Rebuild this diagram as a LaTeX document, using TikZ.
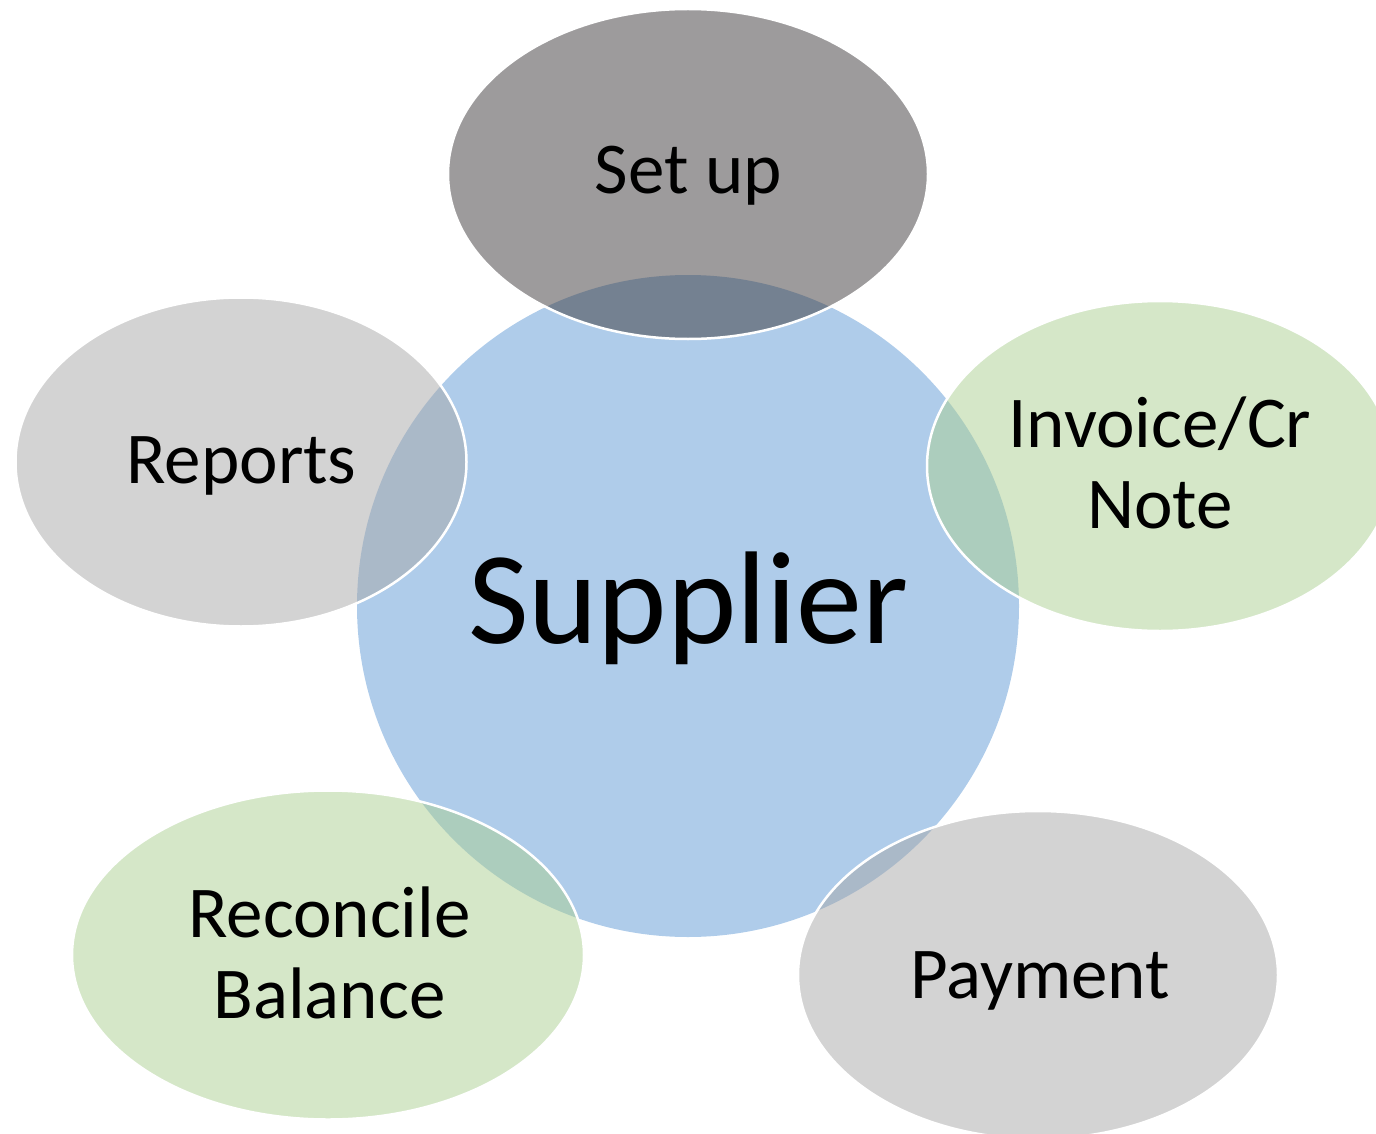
\documentclass[tikz,border=0pt]{standalone}
\usepackage{fontspec}
\setmainfont{Carlito}
\usetikzlibrary{shapes.geometric}
\definecolor{supblue}{RGB}{175,204,234}
\definecolor{setupfill}{RGB}{59,55,57}
\definecolor{greyfill}{RGB}{167,167,167}
\definecolor{greenfill}{RGB}{171,207,145}
\begin{document}
\begin{tikzpicture}[x=1pt,y=-1pt,
  hubstyle/.style={circle, fill=supblue, inner sep=0pt, outer sep=0pt, minimum size=662pt},
  bubble/.style={ellipse, inner sep=0pt, outer sep=0pt, draw=white, line width=2.5pt, fill opacity=0.5, draw opacity=1},
  lbl/.style={font=\fontsize{73}{81}\selectfont, align=center, anchor=base, text=black, inner sep=0pt},
  biglbl/.style={font=\fontsize{132}{150}\selectfont, anchor=base, text=black, inner sep=0pt}]
\useasboundingbox (0,0) rectangle (1376,1134);
\clip (0,0) rectangle (1376,1134);
\node[hubstyle] (hub) at (688,606) {};
\node[bubble, fill=setupfill, minimum width=480pt, minimum height=330pt] (setup) at (688,174) {};
\node[bubble, fill=greyfill, minimum width=451pt, minimum height=329pt] (reports) at (241,462) {};
\node[bubble, fill=greenfill, minimum width=466pt, minimum height=330pt] (invoice) at (1160,466) {};
\node[bubble, fill=greenfill, minimum width=512pt, minimum height=329pt] (reconcile) at (328,955) {};
\node[bubble, fill=greyfill, minimum width=480pt, minimum height=328pt] (payment) at (1038,975) {};
\node[biglbl] (tsupplier) at (688.5,643) {Supplier};
\node[lbl] (tsetup) at (688.5,194) {Set up};
\node[lbl] (treports) at (241.5,483) {Reports};
\node[lbl] (tinvoice) at (1160,528) {Invoice/Cr\\Note};
\node[lbl] (treconcile) at (329.5,1018) {Reconcile\\Balance};
\node[lbl] (tpayment) at (1040,998) {Payment};
\end{tikzpicture}
\end{document}
